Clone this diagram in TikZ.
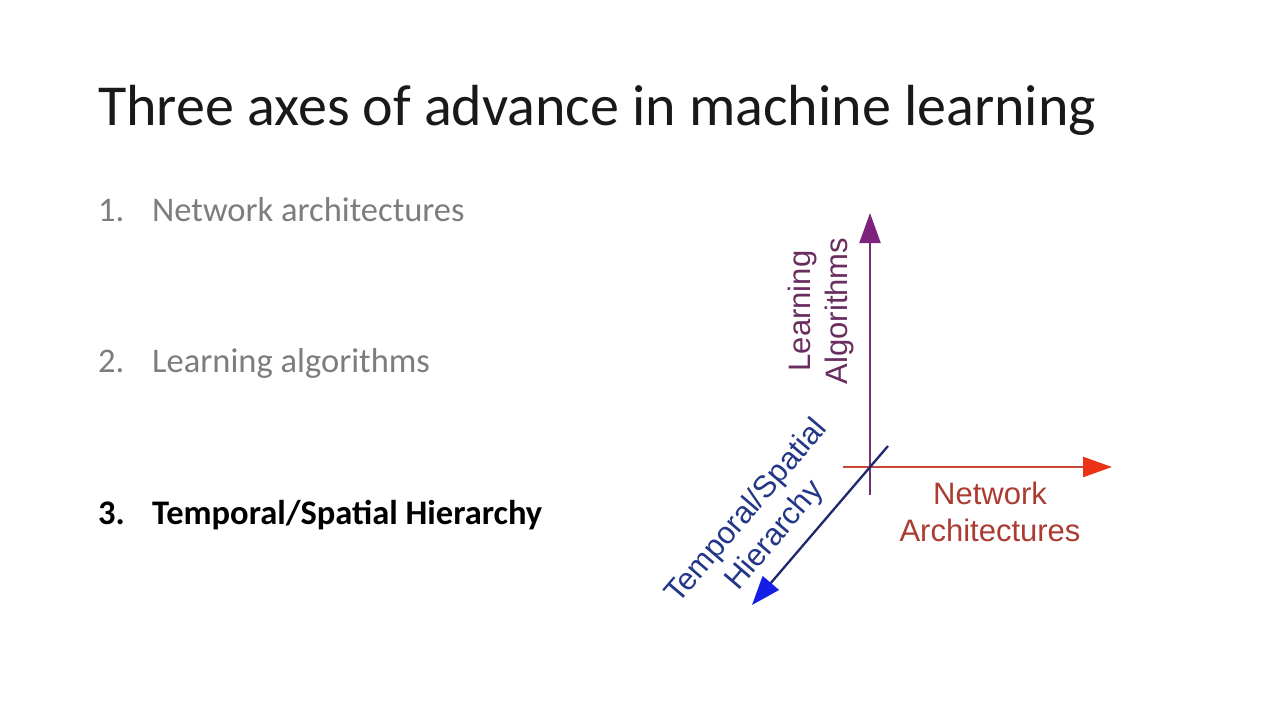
\documentclass[tikz,border=0pt]{standalone}
\usepackage{fontspec}
\setmainfont{Carlito}
\newfontfamily\lsans{Liberation Sans}
\usetikzlibrary{arrows.meta}
\definecolor{titlec}{RGB}{25,25,25}
\definecolor{itemgray}{RGB}{125,125,125}
\definecolor{purpline}{RGB}{110,50,110}
\definecolor{purphead}{RGB}{125,35,125}
\definecolor{purptext}{RGB}{105,45,95}
\definecolor{redline}{RGB}{200,70,55}
\definecolor{redhead}{RGB}{235,50,20}
\definecolor{redtext}{RGB}{170,60,50}
\definecolor{blueline}{RGB}{30,40,110}
\definecolor{bluehead}{RGB}{20,30,230}
\definecolor{bluetext}{RGB}{35,55,135}
\tikzset{
  titletext/.style={anchor=base west, inner sep=0pt, font=\fontsize{58}{60}\selectfont, text=titlec},
  itemnum/.style={anchor=base west, inner sep=0pt, font=\fontsize{34.5}{38}\selectfont},
  itemtext/.style={anchor=base west, inner sep=0pt, font=\fontsize{34.5}{38}\selectfont},
  axislabel/.style={inner sep=0pt, align=center, font=\lsans\fontsize{31}{37}\selectfont},
  axisline/.style={line width=2.3pt},
}
\begin{document}
\begin{tikzpicture}[x=1pt,y=-1pt]
\useasboundingbox[fill=white] (0,0) rectangle (1280,720);
\node[titletext] (title) at (98,125) {Three axes of advance in machine learning};
\node[itemnum, text=itemgray] (n1) at (98,221) {1.};
\node[itemtext, text=itemgray] (t1) at (152,221) {Network architectures};
\node[itemnum, text=itemgray] (n2) at (98,372) {2.};
\node[itemtext, text=itemgray] (t2) at (152,372) {Learning algorithms};
\node[itemnum, text=black, font=\bfseries\fontsize{34.5}{38}\selectfont] (n3) at (98,524) {3.};
\node[itemtext, text=black, font=\bfseries\fontsize{34.5}{38}\selectfont] (t3) at (152,524) {Temporal/Spatial Hierarchy};

\coordinate (vbot) at (870,495);
\coordinate (vtop) at (870,213);
\coordinate (hleft) at (843,467);
\coordinate (hright) at (1112,467);
\coordinate (dtop) at (888,446);
\coordinate (dbot) at (752,605);

\draw[axisline, draw=purpline, -{Triangle[length=30pt,width=21pt,color=purphead]}] (vbot) -- (vtop);
\draw[axisline, draw=redline, -{Triangle[length=29pt,width=20pt,color=redhead]}] (hleft) -- (hright);
\draw[axisline, draw=blueline, -{Triangle[length=29pt,width=21pt,color=bluehead]}] (dtop) -- (dbot);

\node[axislabel, text=purptext, rotate=90] (lalg) at (821,311) {Learning\\Algorithms};
\node[axislabel, text=redtext] (lnet) at (990,512) {Network\\Architectures};
\node[axislabel, text=bluetext, rotate=49.5] (lhier) at (761,524) {Temporal/Spatial\\Hierarchy};
\end{tikzpicture}
\end{document}
